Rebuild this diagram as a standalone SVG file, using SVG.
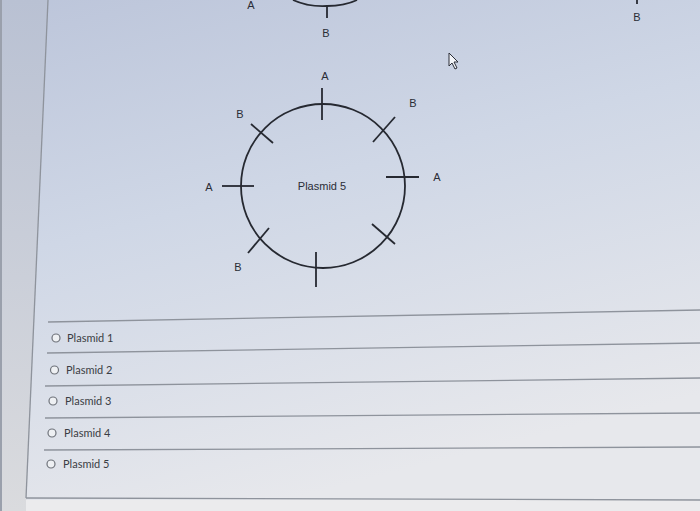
<svg xmlns="http://www.w3.org/2000/svg" width="700" height="511" viewBox="0 0 700 511">
<defs>
<linearGradient id="bg" x1="0" y1="0" x2="0.35" y2="1">
<stop offset="0" stop-color="#bcc5da"/>
<stop offset="0.45" stop-color="#cfd7e6"/>
<stop offset="1" stop-color="#e7e8ec"/>
</linearGradient>
<linearGradient id="side" x1="0" y1="0" x2="0" y2="1">
<stop offset="0" stop-color="#b9c1d3"/>
<stop offset="1" stop-color="#dadbde"/>
</linearGradient>
<style>
.ln{stroke:#262931;stroke-width:1.8;fill:none}
.lbl{font-family:"Liberation Sans",Arial,sans-serif;font-size:11px;fill:#2a2d36;text-anchor:middle}
.rule{stroke:#8e939c;stroke-width:1.3;fill:none}
.opt{font-family:Lato,"Liberation Sans",sans-serif;font-size:11px;fill:#3a3d44}
.radio{fill:#eef0f3;stroke:#6e727a;stroke-width:1.2}
</style>
</defs>
<rect width="700" height="511" fill="url(#bg)"/>
<polygon points="0,0 48,0 26,511 0,511" fill="url(#side)"/>
<rect x="0" y="0" width="2" height="511" fill="#9aa0ac"/>
<rect x="26" y="500" width="674" height="11" fill="#ebebed"/>
<g id="frame">
<line class="rule" x1="48" y1="0" x2="26" y2="498"/>
<line class="rule" x1="26" y1="498" x2="700" y2="500"/>
</g>
<g id="plasmid4-partial">
<path class="ln" d="M293,0 Q308,7 327,6 Q345,6 357,0"/>
<line class="ln" x1="327" y1="6" x2="327" y2="18"/>
<text class="lbl" x="251" y="9">A</text>
<text class="lbl" x="326" y="37">B</text>
<line class="ln" x1="637" y1="0" x2="637" y2="4"/>
<text class="lbl" x="637" y="21">B</text>
</g>
<g id="plasmid5">
<circle class="ln" cx="323" cy="186" r="82"/>
<text class="lbl" x="322" y="190">Plasmid 5</text>
</g>
<g id="connectors">
<line class="ln" x1="322" y1="88" x2="322" y2="120"/>
<line class="ln" x1="316" y1="252" x2="316" y2="287"/>
<line class="ln" x1="222" y1="186" x2="254" y2="186"/>
<line class="ln" x1="386" y1="177" x2="419" y2="177"/>
<line class="ln" x1="251" y1="124" x2="273" y2="143"/>
<line class="ln" x1="395" y1="117" x2="373" y2="142"/>
<line class="ln" x1="372" y1="224" x2="395" y2="244"/>
<line class="ln" x1="269" y1="228" x2="248" y2="253"/>
</g>
<g id="site-labels">
<text class="lbl" x="325" y="80">A</text>
<text class="lbl" x="240" y="118">B</text>
<text class="lbl" x="413" y="107">B</text>
<text class="lbl" x="209" y="191">A</text>
<text class="lbl" x="437" y="181">A</text>
<text class="lbl" x="238" y="271">B</text>
</g>
<g id="cursor">
<polygon points="449,53 449,66 452,63 455,69 457,68 454,62 458,62" fill="#f2f4f8" stroke="#2a2d36" stroke-width="1"/>
</g>
<g id="options">
<line class="rule" x1="48" y1="322" x2="700" y2="310"/>
<line class="rule" x1="47" y1="353" x2="700" y2="343"/>
<line class="rule" x1="45" y1="386" x2="700" y2="378"/>
<line class="rule" x1="45" y1="418" x2="700" y2="413"/>
<line class="rule" x1="44" y1="450" x2="700" y2="447"/>
<g id="opt1"><circle class="radio" cx="56" cy="338" r="4"/><text class="opt" x="67" y="342">Plasmid 1</text></g>
<g id="opt2"><circle class="radio" cx="54.5" cy="370" r="4"/><text class="opt" x="66" y="374">Plasmid 2</text></g>
<g id="opt3"><circle class="radio" cx="53" cy="401" r="4"/><text class="opt" x="65" y="405">Plasmid 3</text></g>
<g id="opt4"><circle class="radio" cx="52" cy="433" r="4"/><text class="opt" x="64" y="437">Plasmid 4</text></g>
<g id="opt5"><circle class="radio" cx="51" cy="464" r="4"/><text class="opt" x="63" y="468">Plasmid 5</text></g>
</g>
</svg>
